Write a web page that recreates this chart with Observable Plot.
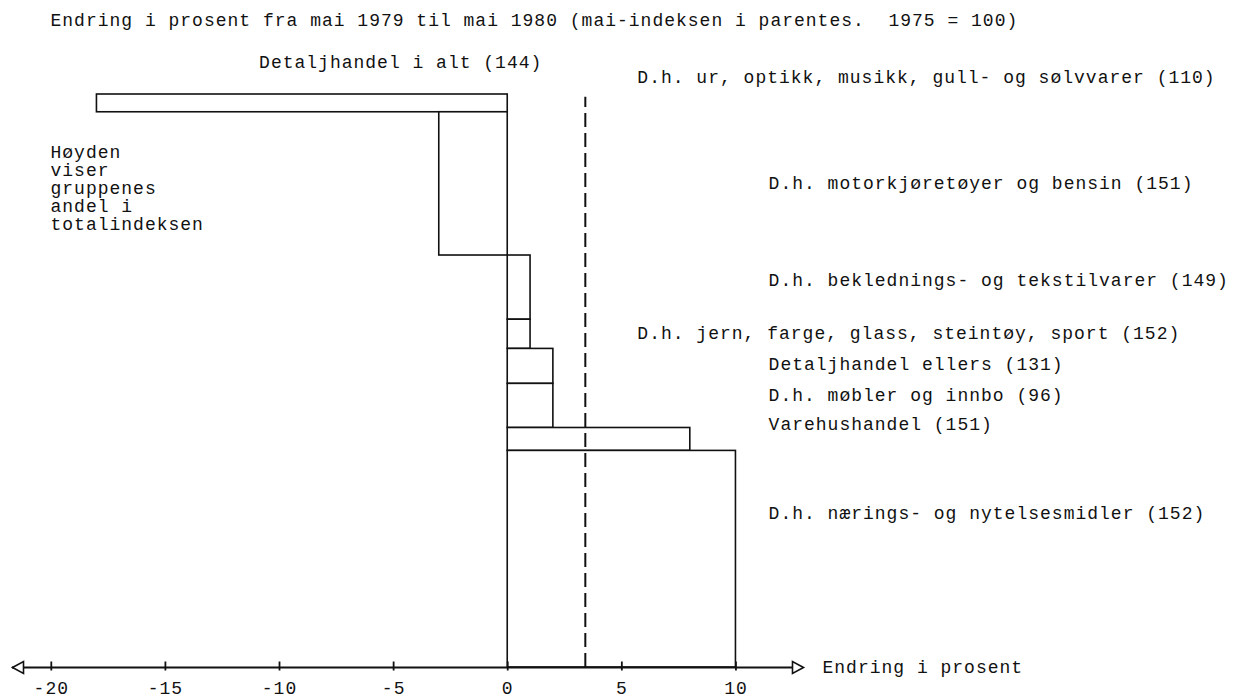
<!DOCTYPE html>
<html>
<head>
<meta charset="utf-8">
<script src="https://cdn.jsdelivr.net/npm/d3@7"></script>
<script src="https://cdn.jsdelivr.net/npm/@observablehq/plot@0.6"></script>
<style>
  html, body { margin: 0; padding: 0; background: #fff; }
  #chart svg { display: block; }
</style>
</head>
<body>
<div id="chart"></div>
<script>
// ---- data ----
const categories = [
  "D.h. ur, optikk, musikk, gull- og sølvvarer (110)",
  "D.h. motorkjøretøyer og bensin (151)",
  "D.h. beklednings- og tekstilvarer (149)",
  "D.h. jern, farge, glass, steintøy, sport (152)",
  "Detaljhandel ellers (131)",
  "D.h. møbler og innbo (96)",
  "Varehushandel (151)",
  "D.h. nærings- og nytelsesmidler (152)"
];
const changes = [-18, -3, 1, 1, 2, 2, 8, 10];                 // % change May 1979 - May 1980
const weights = [3.1, 25.0, 11.2, 5.1, 6.1, 7.7, 4.0, 37.8];  // share of total index (bar height)
const totalChange = 3.4;
const totalLabel = "Detaljhandel i alt (144)";
const tickValues = [-20, -15, -10, -5, 0, 5, 10];
const tickLabels = ["-20", "-15", "-10", "-5", "0", "5", "10"];
const titleText = "Endring i prosent fra mai 1979 til mai 1980 (mai-indeksen i parentes.  1975 = 100)";
const noteText = "Høyden\nviser\ngruppenes\nandel i\ntotalindeksen";
const axisLabel = "Endring i prosent";

// ---- layout (label placement, not data) ----
const labelY = [103.0, 84.5, 67.5, 58.4, 52.9, 47.6, 42.4, 27.0];
const labelX = [5.68, 11.43, 11.43, 5.68, 11.43, 11.43, 11.43, 11.43];

const rows = categories.map((c, i) => ({
  category: c, change: changes[i], weight: weights[i], ly: labelY[i], lx: labelX[i]
}));

const W = 1249, H = 699;
const xDomain = [-21.7, 12.96];
const font = "'Liberation Mono', 'DejaVu Sans Mono', monospace";

const tickSymbol = { draw(ctx) { ctx.moveTo(0, -6); ctx.lineTo(0, 3); } };
const leftArrow = { draw(ctx) { ctx.moveTo(0, 0); ctx.lineTo(11, -6); ctx.lineTo(11, 6); ctx.closePath(); } };
const rightArrow = { draw(ctx) { ctx.moveTo(0, 0); ctx.lineTo(-11, -6); ctx.lineTo(-11, 6); ctx.closePath(); } };

const chart = Plot.plot({
  width: W,
  height: H,
  marginLeft: 12,
  marginRight: W - 803,
  marginTop: 94,
  marginBottom: 32,
  x: { domain: xDomain, axis: null },
  y: { domain: [0, 100], axis: null },
  style: { fontFamily: font, fontSize: "18px", color: "#111", background: "#fff" },
  marks: [
    // bars: width = change, height = weight, stacked top-down
    Plot.rect(rows, Plot.stackY({
      x1: 0, x2: "change", y: "weight", order: null, reverse: true,
      fill: "white", stroke: "#111", strokeWidth: 1.6
    })),
    // total (dashed)
    Plot.ruleX([totalChange], { y1: 0, y2: 99.5, stroke: "#111", strokeWidth: 2, strokeDasharray: "14,6" }),
    // x axis line with arrows
    Plot.ruleY([0], { x1: xDomain[0], x2: xDomain[1], stroke: "#111", strokeWidth: 1.8 }),
    Plot.dot([xDomain[0]], { x: d => d, y: 0, symbol: leftArrow, fill: "white", stroke: "#111", strokeWidth: 1.6 }),
    Plot.dot([xDomain[1]], { x: d => d, y: 0, symbol: rightArrow, fill: "white", stroke: "#111", strokeWidth: 1.6 }),
    Plot.dot(tickValues, { x: d => d, y: 0, symbol: tickSymbol, fill: "none", stroke: "#111", strokeWidth: 1.8 }),
    Plot.text(tickValues, { x: d => d, y: 0, dy: 21, text: (d, i) => tickLabels[i], fontSize: 18, fill: "#111" }),
    Plot.text([axisLabel], { x: xDomain[1], y: 0, dx: 19, text: d => d, textAnchor: "start", fontSize: 18, fill: "#111" }),
    // category labels
    Plot.text(rows, { x: "lx", y: "ly", text: "category", textAnchor: "start", fontSize: 18, fill: "#111" }),
    // total label
    Plot.text([totalLabel], { x: totalChange, y: 100, dy: -32, text: d => d, textAnchor: "end", dx: -43, fontSize: 18, fill: "#111" }),
    // title
    Plot.text([titleText], { frameAnchor: "top-left", dx: 38, dy: -74, text: d => d, textAnchor: "start", lineAnchor: "middle", fontSize: 18, fill: "#111" }),
    // note
    Plot.text([noteText], { frameAnchor: "top-left", dx: 38, dy: 51, text: d => d, textAnchor: "start", lineAnchor: "top", lineHeight: 1.0, fontSize: 18, fill: "#111" })
  ]
});
chart.querySelectorAll("text").forEach(t => t.style.letterSpacing = "1px");
document.getElementById("chart").appendChild(chart);
</script>
</body>
</html>
